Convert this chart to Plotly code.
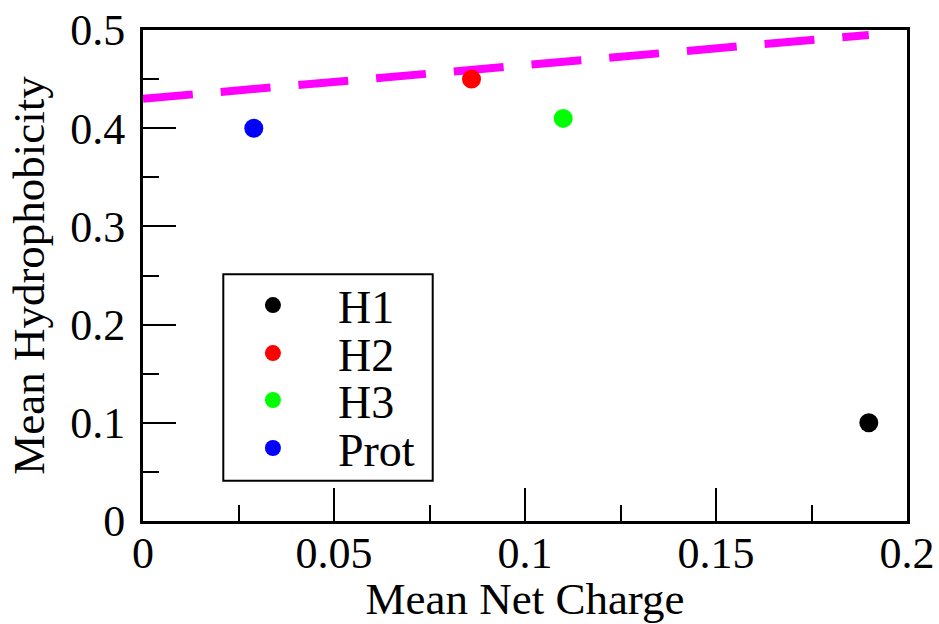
import plotly.graph_objects as go

names = ["H1", "H2", "H3", "Prot"]
charge = [0.19, 0.086, 0.11, 0.029]
hydro = [0.10, 0.45, 0.41, 0.40]
colors = ["#000000", "#ff0000", "#00ff00", "#0000ff"]

line_x = [0.0, 0.19]
line_y = [0.43, 0.495]

x_ticks = [0, 0.05, 0.1, 0.15, 0.2]
x_ticklabels = ["0", "0.05", "0.1", "0.15", "0.2"]
y_ticks = [0, 0.1, 0.2, 0.3, 0.4, 0.5]
y_ticklabels = ["0", "0.1", "0.2", "0.3", "0.4", "0.5"]

FONT = "Liberation Serif, Times New Roman, serif"

# legend entry vertical centres (fraction of plot height)
legend_y = [0.4395, 0.3418, 0.2462, 0.1485]
legend_ids = ["legend", "legend2", "legend3", "legend4"]

fig = go.Figure()
fig.add_trace(go.Scatter(x=line_x, y=line_y, mode="lines",
                         line=dict(color="#ff00ff", width=8, dash="50px,28px"),
                         showlegend=False, hoverinfo="skip"))
for n, cx, hy, c, lg in zip(names, charge, hydro, colors, legend_ids):
    fig.add_trace(go.Scatter(x=[cx], y=[hy], mode="markers", name=n, legend=lg,
                             marker=dict(color=c, size=19, line=dict(width=0))))

axis_common = dict(showgrid=False, zeroline=False, showline=True, linecolor="black",
                   linewidth=3, mirror=True, ticks="inside", tickwidth=2,
                   ticklen=33, tickcolor="black", automargin=False,
                   tickfont=dict(family=FONT, size=44, color="black"))

fig.update_xaxes(range=[0, 0.2], tickvals=x_ticks, ticktext=x_ticklabels,
                 minor=dict(ticks="inside", ticklen=16, tickwidth=2, tickcolor="black", dtick=0.025, tick0=0),
                 title=dict(text="Mean Net Charge", font=dict(family=FONT, size=45, color="black"), standoff=8),
                 ticklabelstandoff=-9, **axis_common)
fig.update_yaxes(range=[0, 0.5], tickvals=y_ticks, ticktext=y_ticklabels,
                 minor=dict(ticks="inside", ticklen=16, tickwidth=2, tickcolor="black", dtick=0.05, tick0=0),
                 title=dict(text="Mean Hydrophobicity", font=dict(family=FONT, size=45, color="black"), standoff=12),
                 ticklabelstandoff=6, **axis_common)

legend_style = dict(x=0.085, xanchor="left", yanchor="middle",
                    bgcolor="rgba(0,0,0,0)", borderwidth=0,
                    font=dict(family=FONT, size=46, color="black"),
                    itemwidth=120)
layout_legends = {lg: dict(y=ly, **legend_style) for lg, ly in zip(legend_ids, legend_y)}

fig.update_layout(
    width=939, height=624,
    margin=dict(l=143, r=32, t=30, b=103, autoexpand=False),
    plot_bgcolor="white", paper_bgcolor="white",
    font=dict(family=FONT, size=44, color="black"),
    **layout_legends,
)
fig.add_shape(type="rect", xref="paper", yref="paper",
              x0=0.1051, x1=0.3792, y0=0.082, y1=0.5025,
              line=dict(color="black", width=2), fillcolor="rgba(0,0,0,0)", layer="above")

fig.write_html("out.html")
